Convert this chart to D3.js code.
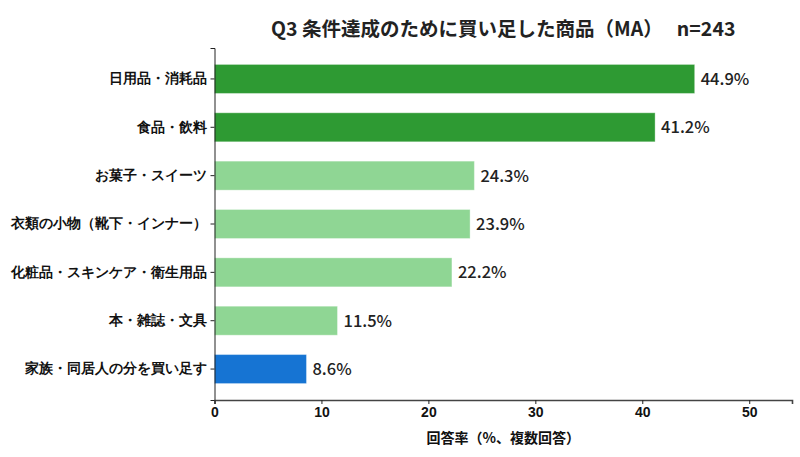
<!DOCTYPE html>
<html>
<head>
<meta charset="utf-8">
<script src="https://cdn.jsdelivr.net/npm/d3@7"></script>
<style>
  body { margin: 0; background: #fff; }
  svg { display: block; font-family: "Noto Sans CJK JP", "Noto Sans", sans-serif; }
</style>
</head>
<body>
<div id="chart"></div>
<script>
// Données
const categories = ["日用品・消耗品", "食品・飲料", "お菓子・スイーツ", "衣類の小物（靴下・インナー）", "化粧品・スキンケア・衛生用品", "本・雑誌・文具", "家族・同居人の分を買い足す"];
const values = [44.9, 41.2, 24.3, 23.9, 22.2, 11.5, 8.6];
const barColors = ["#2e9a33", "#2e9a33", "#8fd694", "#8fd694", "#8fd694", "#8fd694", "#1674d3"];
const xTicks = [0, 10, 20, 30, 40, 50];
const titleText = "Q3 条件達成のために買い足した商品（MA）　 n=243";
const xLabel = "回答率（%、複数回答）";

const width = 800, height = 457;
const margin = { top: 48, right: 8, bottom: 57, left: 214.5 };
const w = width - margin.left - margin.right;
const h = height - margin.top - margin.bottom;

const svg = d3.select("#chart").append("svg")
    .attr("width", width).attr("height", height);

const g = svg.append("g").attr("transform", `translate(${margin.left},${margin.top})`);

const x = d3.scaleLinear().domain([0, 54]).range([0, w]);
const y = d3.scaleBand().domain(categories).range([0, h]).paddingInner(0.4).paddingOuter(0.34);

// Barres
g.selectAll("rect.bar")
    .data(categories)
    .enter().append("rect")
    .attr("class", "bar")
    .attr("x", 0)
    .attr("y", d => y(d))
    .attr("width", (d, i) => x(values[i]))
    .attr("height", y.bandwidth())
    .style("fill", (d, i) => barColors[i])
    .style("stroke", "#ffffff")
    .style("stroke-opacity", 0.35)
    .style("stroke-width", 1);

// Valeurs
g.selectAll("text.val")
    .data(categories)
    .enter().append("text")
    .attr("class", "val")
    .attr("x", (d, i) => x(values[i]) + 6)
    .attr("y", d => y(d) + y.bandwidth() / 2)
    .attr("dy", "0.36em")
    .style("font-size", "16.5px")
    .style("font-weight", 500)
    .style("fill", "#222")
    .text((d, i) => values[i].toFixed(1) + "%");

// Axe Y
const yAxis = g.append("g")
    .call(d3.axisLeft(y).tickSize(4).tickPadding(4));
yAxis.select(".domain").style("stroke", "#222").style("stroke-width", 1);
yAxis.selectAll(".tick line").style("stroke", "#222");
yAxis.selectAll(".tick text")
    .style("font-size", "13.5px").style("font-weight", "bold").style("fill", "#111");

// Axe X
const xAxis = g.append("g")
    .attr("transform", `translate(0,${h})`)
    .call(d3.axisBottom(x).tickValues(xTicks).tickSize(4).tickPadding(3));
xAxis.select(".domain").style("stroke", "#444").style("stroke-width", 1.6);
xAxis.selectAll(".tick line").style("stroke", "#222");
xAxis.selectAll(".tick text")
    .style("font-size", "14px").style("font-weight", "bold").style("fill", "#111");

// Titre
svg.append("text")
    .attr("x", margin.left + w / 2)
    .attr("y", 36)
    .attr("text-anchor", "middle")
    .style("font-size", "19.5px")
    .style("font-weight", "bold")
    .style("fill", "#222")
    .style("white-space", "pre")
    .text(titleText);

// Légende de l'axe X
svg.append("text")
    .attr("x", margin.left + w / 2)
    .attr("y", 443)
    .attr("text-anchor", "middle")
    .style("font-size", "14px")
    .style("font-weight", "bold")
    .style("fill", "#111")
    .text(xLabel);
</script>
</body>
</html>
